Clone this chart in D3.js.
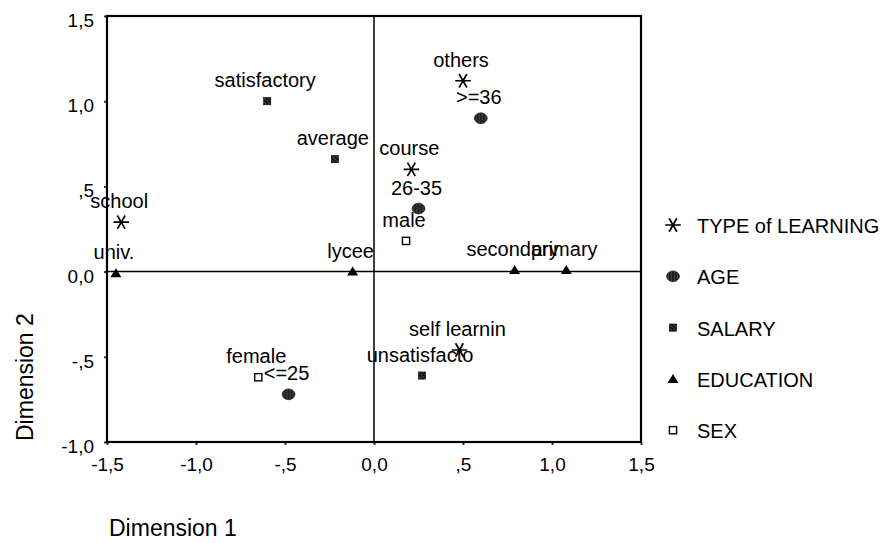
<!DOCTYPE html>
<html>
<head>
<meta charset="utf-8">
<script src="https://cdn.jsdelivr.net/npm/d3@7"></script>
<style>
  body { margin: 0; background: #fff; }
  svg { display: block; font-family: Arial, "Liberation Sans", sans-serif; }
</style>
</head>
<body>
<svg id="chart" width="887" height="543"></svg>
<script>
// categories per variable, with dimension 1 / dimension 2 coordinates
var seriesNames = ["TYPE of LEARNING", "AGE", "SALARY", "EDUCATION", "SEX"];

var learningLabels = ["others", "course", "school", "self learnin"];
var learningDim1 = [0.50, 0.21, -1.42, 0.48];
var learningDim2 = [1.12, 0.60, 0.29, -0.46];

var ageLabels = [">=36", "26-35", "<=25"];
var ageDim1 = [0.60, 0.25, -0.48];
var ageDim2 = [0.90, 0.37, -0.72];

var salaryLabels = ["satisfactory", "average", "unsatisfacto"];
var salaryDim1 = [-0.60, -0.22, 0.27];
var salaryDim2 = [1.00, 0.66, -0.61];

var educationLabels = ["univ.", "lycee", "secondary", "primary"];
var educationDim1 = [-1.45, -0.12, 0.79, 1.08];
var educationDim2 = [-0.01, 0.00, 0.01, 0.01];

var sexLabels = ["male", "female"];
var sexDim1 = [0.18, -0.65];
var sexDim2 = [0.18, -0.62];

var xTicks = [-1.5, -1.0, -0.5, 0.0, 0.5, 1.0, 1.5];
var xTickLabels = ["-1,5", "-1,0", "-,5", "0,0", ",5", "1,0", "1,5"];
var yTicks = [-1.0, -0.5, 0.0, 0.5, 1.0, 1.5];
var yTickLabels = ["-1,0", "-,5", "0,0", ",5", "1,0", "1,5"];

var svg = d3.select("#chart");

var x = d3.scaleLinear().domain([-1.5, 1.5]).range([107, 641]);
var y = d3.scaleLinear().domain([-1.0, 1.5]).range([442, 16]);

// pattern for the AGE marker (dark, hatched look)
var defs = svg.append("defs");
var pat = defs.append("pattern")
    .attr("id", "hatch")
    .attr("patternUnits", "userSpaceOnUse")
    .attr("width", 3).attr("height", 3);
pat.append("rect").attr("width", 3).attr("height", 3).attr("fill", "#1e1e1e");
pat.append("line").attr("x1", 1.5).attr("y1", 0).attr("x2", 1.5).attr("y2", 3)
    .attr("stroke", "#555").attr("stroke-width", 0.7);

var sqPat = defs.append("pattern")
    .attr("id", "diag")
    .attr("patternUnits", "userSpaceOnUse")
    .attr("width", 4).attr("height", 4);
sqPat.append("rect").attr("width", 4).attr("height", 4).attr("fill", "#111");
sqPat.append("line").attr("x1", 0).attr("y1", 0).attr("x2", 4).attr("y2", 4)
    .attr("stroke", "#777").attr("stroke-width", 0.7);

// axes
var xAxis = d3.axisBottom(x)
    .tickValues(xTicks)
    .tickFormat(function (d, i) { return xTickLabels[i]; })
    .tickSize(3)
    .tickPadding(13);
var gx = svg.append("g").attr("transform", "translate(0,442)").call(xAxis);

var yAxis = d3.axisLeft(y)
    .tickValues(yTicks)
    .tickFormat(function (d, i) { return yTickLabels[i]; })
    .tickSize(3)
    .tickPadding(10);
var gy = svg.append("g").attr("transform", "translate(107,0)").call(yAxis);

[gx, gy].forEach(function (g) {
    g.select(".domain").remove();
    g.selectAll(".tick line").attr("stroke", "#333").attr("stroke-width", 2);
    g.selectAll(".tick text")
        .attr("font-family", "Arial, 'Liberation Sans', sans-serif")
        .attr("font-size", 19)
        .attr("fill", "#000");
});
gy.selectAll(".tick text").attr("dy", "0.55em");

// zero reference lines
svg.append("line")
    .attr("x1", x(0)).attr("x2", x(0))
    .attr("y1", y(-1.0)).attr("y2", y(1.5))
    .attr("stroke", "#000").attr("stroke-width", 1.5);
svg.append("line")
    .attr("x1", x(-1.5)).attr("x2", x(1.5))
    .attr("y1", y(0)).attr("y2", y(0))
    .attr("stroke", "#000").attr("stroke-width", 1.5);

// plot frame
svg.append("rect")
    .attr("x", x(-1.5)).attr("y", y(1.5))
    .attr("width", x(1.5) - x(-1.5))
    .attr("height", y(-1.0) - y(1.5))
    .attr("fill", "none")
    .attr("stroke", "#000")
    .attr("stroke-width", 2.2);

// marker drawers
function drawMarker(g, kind) {
    if (kind === 0) {
        g.append("path")
            .attr("d", d3.symbol(d3.symbolAsterisk, 170)())
            .attr("transform", "rotate(90)")
            .attr("fill", "none")
            .attr("stroke", "#000")
            .attr("stroke-width", 1.7);
    } else if (kind === 1) {
        g.append("ellipse")
            .attr("rx", 6.4).attr("ry", 5.4)
            .attr("fill", "url(#hatch)")
            .attr("stroke", "#222").attr("stroke-width", 0.8);
    } else if (kind === 2) {
        g.append("rect")
            .attr("x", -3.6).attr("y", -3.6)
            .attr("width", 7.2).attr("height", 7.2)
            .attr("fill", "url(#diag)")
            .attr("stroke", "#000").attr("stroke-width", 0.6);
    } else if (kind === 3) {
        g.append("path")
            .attr("d", "M0,-5L5.5,4L-5.5,4Z")
            .attr("fill", "#000");
    } else {
        g.append("rect")
            .attr("x", -3.6).attr("y", -3.6)
            .attr("width", 7.2).attr("height", 7.2)
            .attr("fill", "#fff")
            .attr("stroke", "#000").attr("stroke-width", 1.4);
    }
}

var groups = [
    { labels: learningLabels, d1: learningDim1, d2: learningDim2 },
    { labels: ageLabels, d1: ageDim1, d2: ageDim2 },
    { labels: salaryLabels, d1: salaryDim1, d2: salaryDim2 },
    { labels: educationLabels, d1: educationDim1, d2: educationDim2 },
    { labels: sexLabels, d1: sexDim1, d2: sexDim2 }
];

var pointLayer = svg.append("g");
var labelLayer = svg.append("g");

groups.forEach(function (grp, k) {
    grp.labels.forEach(function (lab, i) {
        var px = x(grp.d1[i]), py = y(grp.d2[i]);
        var m = pointLayer.append("g").attr("transform", "translate(" + px + "," + py + ")");
        drawMarker(m, k);
        labelLayer.append("text")
            .attr("x", px - 2)
            .attr("y", py - 14)
            .attr("text-anchor", "middle")
            .attr("font-size", 20)
            .attr("fill", "#000")
            .text(lab);
    });
});

// legend
var legend = svg.append("g");
seriesNames.forEach(function (name, k) {
    var cy = 225 + k * 51.3;
    var m = legend.append("g").attr("transform", "translate(673," + cy + ")");
    drawMarker(m, k);
    legend.append("text")
        .attr("x", 697)
        .attr("y", cy + 8)
        .attr("font-size", 20)
        .attr("fill", "#000")
        .text(name);
});

// axis titles
svg.append("text")
    .attr("x", 109).attr("y", 536)
    .attr("font-size", 23)
    .attr("fill", "#000")
    .text("Dimension 1");

svg.append("text")
    .attr("transform", "translate(33,441) rotate(-90)")
    .attr("font-size", 23)
    .attr("fill", "#000")
    .text("Dimension 2");
</script>
</body>
</html>
